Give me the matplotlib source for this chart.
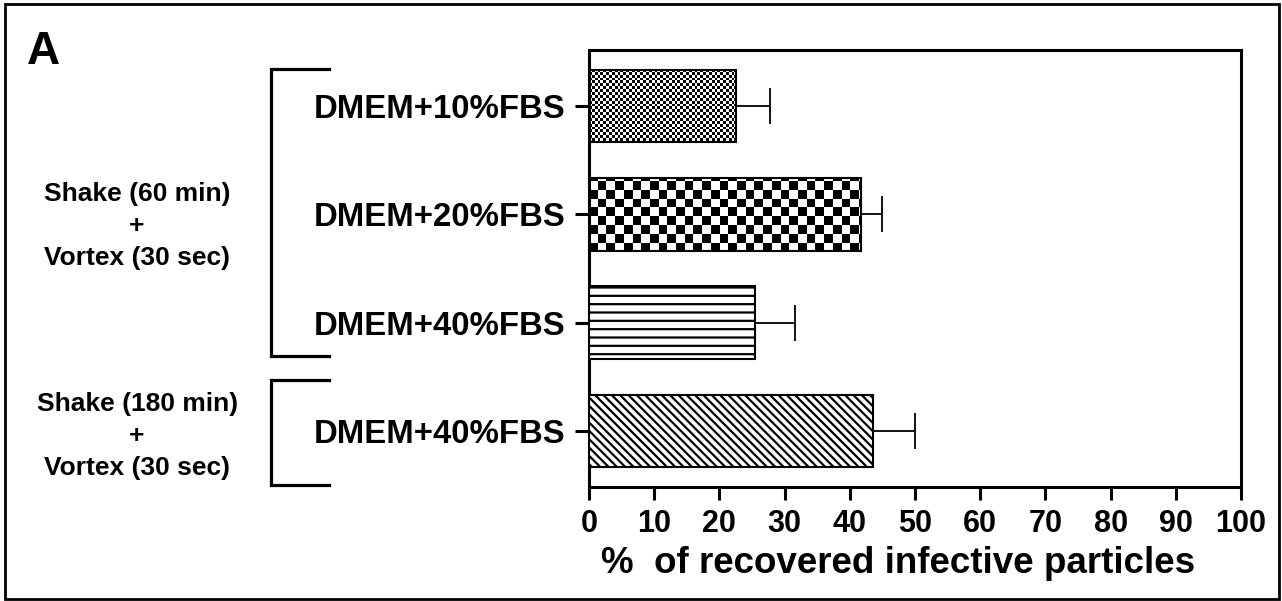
import numpy as np
import matplotlib
matplotlib.use("Agg")
import matplotlib.pyplot as plt
from matplotlib.patches import Rectangle

plt.rcParams['font.family'] = ['Liberation Sans', 'DejaVu Sans']
plt.rcParams['font.weight'] = 'bold'
plt.rcParams['hatch.linewidth'] = 1.6

# data
media = ['DMEM+10%FBS', 'DMEM+20%FBS', 'DMEM+40%FBS', 'DMEM+40%FBS']
recovered = [22.5, 41.8, 25.4, 43.6]
err = [5.3, 3.1, 6.2, 6.4]
groups = ['Shake (60 min)\n+\nVortex (30 sec)', 'Shake (180 min)\n+\nVortex (30 sec)']
xticks = list(range(0, 101, 10))

pos = np.arange(len(media))

fig = plt.figure(figsize=(12.82, 6.01), dpi=100)
ax = fig.add_axes([0.4594, 0.1897, 0.5086, 0.7271])

fills = ['fine', 'coarse', '--', '\\\\\\\\']
bars = ax.barh(pos, recovered, height=0.67, color='white', edgecolor='black',
               linewidth=1.5, zorder=3)
ax.errorbar(recovered, pos, xerr=[np.zeros(len(err)), err], fmt='none',
            ecolor='black', elinewidth=1.3, capsize=13.3, capthick=1.3, zorder=1)

# checkerboards clipped to the bars, hatches for the rest
axw, axh = 652, 437
for b, f in zip(bars, fills):
    if f in ('fine', 'coarse'):
        sq = 2.85 if f == 'fine' else 8.7
        nc, nr = int(round(axw / sq)), int(round(axh / sq))
        chk = (np.add.outer(np.arange(nr), np.arange(nc)) % 2).astype(float)
        b.set_facecolor('none')
        im = ax.imshow(chk, cmap='gray', extent=(0, 100, 3.52, -0.52),
                       aspect='auto', interpolation='nearest', zorder=2)
        im.set_clip_path(b)
    else:
        b.set_hatch(f)

ax.set_xlim(0, 100)
ax.set_ylim(3.52, -0.52)

ax.set_yticks(pos)
ax.set_yticklabels(media, fontsize=23.7, fontweight='bold')
ax.set_xticks(xticks)
ax.set_xticklabels([str(t) for t in xticks], fontsize=22, fontweight='bold')
ax.tick_params(axis='y', length=10, width=2.2, pad=7)
ax.tick_params(axis='x', length=9, width=2.2, pad=7)
for s in ax.spines.values():
    s.set_linewidth(2.2)
ax.set_xlabel('%  of recovered infective particles', fontsize=26.5,
              fontweight='bold', labelpad=5)
ax.xaxis.label.set_x(0.474)

# group brackets on the left
tr = ax.get_yaxis_transform()
spans = [(-0.34, 2.31), (2.53, 3.5)]
text_y = [1.105, 3.05]
for (y0, y1), lab, ty in zip(spans, groups, text_y):
    ax.plot([-0.399, -0.4877, -0.4877, -0.399], [y0, y0, y1, y1], color='black',
            lw=2.3, transform=tr, clip_on=False, solid_joinstyle='miter')
    ax.text(-0.693, ty, lab, transform=tr, ha='center', va='center',
            fontsize=19, fontweight='bold', linespacing=1.42,
            multialignment='center')

fig.text(0.021, 0.913, 'A', fontsize=33, fontweight='bold', ha='left', va='center')
fig.add_artist(Rectangle((0.004, 0.004), 0.994, 0.99, transform=fig.transFigure,
                         fill=False, lw=2, edgecolor='black'))

fig.savefig('out.png', dpi=100)
